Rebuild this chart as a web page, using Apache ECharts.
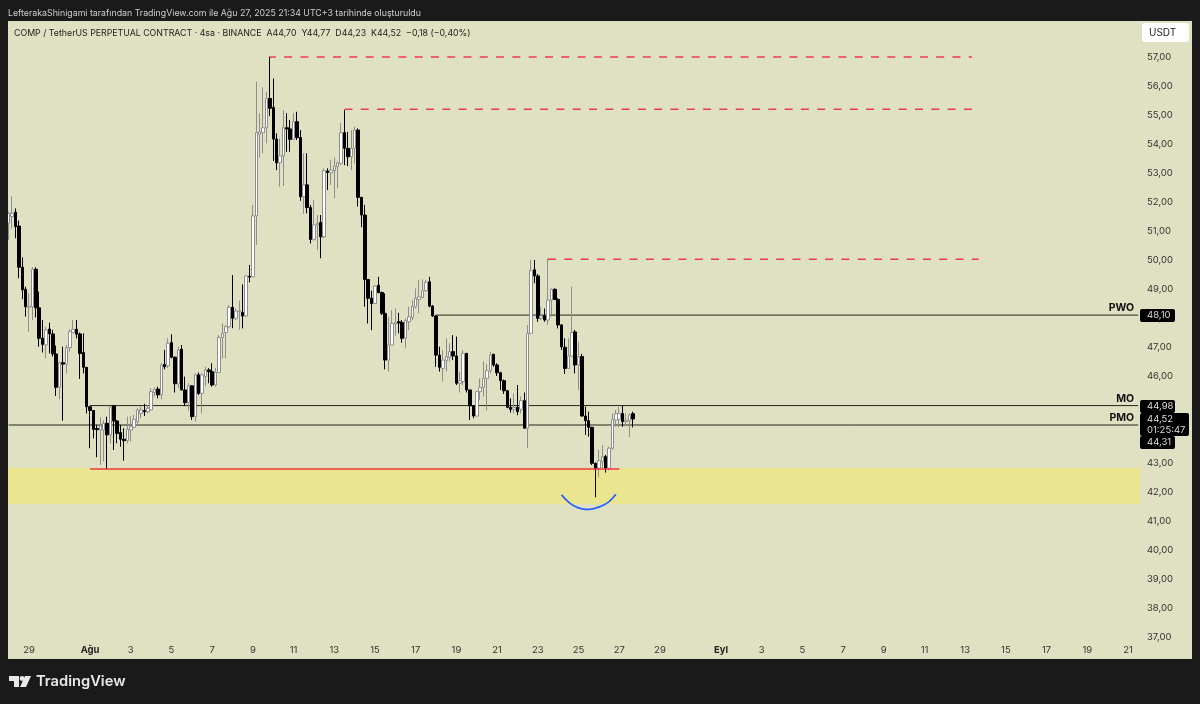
<!DOCTYPE html>
<html>
<head>
<meta charset="utf-8">
<title>COMP / TetherUS</title>
<script src="https://cdn.jsdelivr.net/npm/echarts@6/dist/echarts.min.js"></script>
<style>
  html, body { margin: 0; padding: 0; background: #1a1a1a; }
  #chart { width: 1200px; height: 704px; }
</style>
</head>
<body>
<div id="chart"></div>
<script>
// 4h candles from 28 Jul 2025
var opens = [
  51.27,51.50,51.65,51.17,49.75,48.99,48.37,48.39,49.68,48.35,
  47.30,47.07,47.62,47.45,46.76,45.61,46.46,46.41,46.98,47.50,
  47.61,47.45,46.81,46.30,44.94,44.81,44.19,44.14,44.14,44.37,
  43.97,44.97,44.45,44.05,43.82,43.77,44.14,44.23,44.43,44.71,
  44.81,44.77,44.83,45.43,45.55,45.35,46.40,46.35,47.15,46.65,
  45.73,46.92,45.52,45.08,45.66,44.60,46.04,45.40,45.98,46.21,
  46.15,45.69,46.12,47.33,47.50,47.70,48.37,47.99,48.22,48.19,
  48.07,49.44,49.42,51.52,54.34,54.39,54.56,55.57,55.26,54.17,
  53.35,53.59,54.56,54.52,54.16,54.77,54.22,52.18,52.59,51.81,
  50.71,51.21,51.29,50.80,53.07,53.01,53.08,53.22,53.33,54.39,
  53.85,53.56,53.85,54.48,52.16,51.55,49.33,48.68,48.50,49.13,
  48.88,48.16,46.55,47.07,47.79,47.87,47.84,47.30,47.87,48.02,
  48.39,48.64,48.71,48.94,49.25,48.41,48.07,46.72,46.26,46.53,
  46.64,46.84,46.69,45.75,45.81,46.78,45.52,44.97,44.62,45.46,
  45.61,45.92,46.18,46.75,46.38,46.11,45.84,45.49,44.92,44.85,
  44.92,44.85,45.15,44.20,47.47,49.66,49.45,47.99,48.08,47.93,
  48.62,48.99,48.64,47.76,46.99,46.26,46.69,47.52,46.38,46.67,
  44.62,44.46,44.23,42.99,42.82,43.05,43.22,42.82,43.51,44.48,
  44.51,44.71,44.43,44.46,44.70
];
var closes = [
  51.61,51.61,51.15,49.75,48.97,48.39,48.41,49.68,48.35,47.30,
  47.09,47.59,47.45,46.76,45.61,46.46,46.41,46.98,47.53,47.61,
  47.44,46.78,46.30,44.94,44.81,44.16,44.15,44.28,44.37,43.97,
  44.94,44.45,44.02,43.82,43.77,44.16,44.25,44.51,44.83,44.83,
  44.77,44.89,45.46,45.54,45.35,46.38,46.32,47.13,46.65,45.73,
  46.90,45.52,45.08,45.66,44.60,46.04,45.40,46.04,46.21,46.15,
  45.69,46.13,47.33,47.47,47.70,48.37,47.99,48.24,48.25,48.07,
  49.45,49.41,51.52,54.39,54.42,54.56,55.57,55.23,54.17,53.35,
  53.59,54.56,54.52,54.16,54.77,54.22,52.18,52.59,51.81,50.71,
  51.21,51.26,50.80,53.08,53.02,53.10,53.24,53.35,54.39,53.85,
  53.56,53.85,54.48,52.16,51.55,49.33,48.68,48.50,49.10,48.88,
  48.16,46.55,47.07,47.81,47.84,47.83,47.30,47.91,48.04,48.39,
  48.68,48.73,48.94,49.23,48.41,48.07,46.72,46.30,46.55,46.67,
  46.84,46.69,45.75,45.84,46.78,45.52,44.97,44.62,45.46,45.61,
  45.92,46.18,46.72,46.38,46.11,45.84,45.49,44.92,44.85,44.92,
  44.77,45.15,44.20,47.47,49.63,49.45,47.99,48.07,47.93,48.62,
  48.99,48.64,47.76,47.01,46.26,46.69,47.50,46.38,46.67,44.62,
  44.46,44.23,42.99,42.82,43.08,43.22,42.82,43.51,44.51,44.69,
  44.71,44.43,44.48,44.66,44.52
];
var lows = [
  50.69,51.09,50.75,49.37,48.65,48.05,47.53,47.93,48.02,47.01,
  46.81,46.61,46.78,46.67,45.31,45.20,44.46,46.09,46.84,47.47,
  47.30,45.90,46.09,44.71,43.51,43.85,43.20,42.93,43.05,42.78,
  43.68,43.45,43.68,43.56,43.08,43.68,43.74,44.20,44.31,44.54,
  44.62,44.71,44.81,45.29,45.23,45.20,46.23,46.27,46.61,45.43,
  45.58,45.50,44.97,44.81,44.48,44.43,45.35,44.71,45.66,45.75,
  45.63,45.63,46.12,46.61,46.61,47.65,47.65,47.93,47.59,47.64,
  48.04,49.23,49.40,50.52,53.54,53.68,54.02,54.96,53.42,53.10,
  52.53,52.55,53.73,53.73,54.14,54.14,52.04,51.59,51.61,50.57,
  50.67,50.34,50.06,50.75,52.41,52.59,52.13,52.47,53.27,53.27,
  53.24,53.10,53.33,51.84,51.13,48.39,47.81,47.58,48.48,48.85,
  48.10,46.23,46.15,47.07,47.39,47.47,47.15,46.95,47.58,47.93,
  48.33,48.16,48.68,48.91,48.37,48.04,46.32,46.15,45.81,46.15,
  46.50,46.55,45.69,45.43,45.69,45.43,44.48,44.54,44.60,45.17,
  45.29,44.81,46.09,46.32,46.00,45.52,45.38,44.89,44.74,44.71,
  44.65,44.71,44.20,43.51,47.47,49.20,47.87,47.93,47.87,47.76,
  48.05,48.62,47.64,46.90,46.07,46.26,46.67,46.09,45.52,44.60,
  43.97,43.91,42.93,41.82,42.51,42.82,42.67,42.74,43.45,44.25,
  44.23,44.25,44.31,43.89,44.23
];
var highs = [
  51.67,52.19,51.78,51.36,50.09,49.08,48.85,49.75,49.75,48.91,
  47.93,47.70,47.84,47.59,47.05,46.50,47.01,47.07,47.61,47.93,
  47.93,47.50,47.47,46.30,44.97,44.83,44.31,44.58,44.48,44.60,
  44.97,44.97,44.48,44.31,44.20,44.60,44.62,44.66,44.89,44.94,
  45.04,45.00,45.58,45.61,45.63,46.44,46.90,47.30,47.44,46.67,
  47.01,47.07,45.98,45.75,45.69,46.09,46.12,46.09,46.32,46.27,
  46.44,46.27,47.41,47.82,47.76,48.45,49.48,48.33,48.60,49.16,
  49.48,49.83,51.90,56.15,55.06,55.95,55.80,57.01,56.26,54.37,
  54.19,55.17,55.06,54.83,55.06,55.11,54.48,53.68,53.68,51.90,
  52.07,51.55,51.55,53.16,53.16,53.45,53.54,53.39,54.73,55.17,
  54.42,54.48,54.60,54.54,52.18,51.90,49.33,48.94,49.14,49.42,
  48.91,48.85,48.04,48.27,48.33,48.18,47.93,47.99,48.39,48.62,
  49.02,49.31,49.33,49.31,49.42,48.45,48.10,47.01,46.90,47.30,
  47.13,47.41,47.36,46.15,46.90,46.78,45.52,45.00,45.49,45.92,
  46.50,46.41,46.84,46.76,46.44,46.15,45.88,45.52,45.23,45.40,
  45.69,45.29,45.43,47.76,50.00,50.00,49.52,48.39,48.33,50.06,
  49.02,49.02,48.68,47.79,47.30,47.30,49.08,47.59,47.18,46.76,
  44.94,44.77,44.25,43.01,43.45,43.62,43.28,43.56,44.71,44.83,
  44.94,45.00,44.71,44.71,44.77
];

// x axis: one slot per 4h bar, labels on the first bar of the listed days
var barCount = 334;
var tickBars = [6,24,36,48,60,72,84,96,108,120,132,144,156,168,180,192,210,222,234,246,258,270,282,294,306,318,330];
var tickLabels = ['29','Ağu','3','5','7','9','11','13','15','17','19','21','23','25','27','29','Eyl','3','5','7','9','11','13','15','17','19','21'];

// drawn levels
var dashedValues = [57.00, 55.20, 50.03];
var dashedStart = [77, 99, 159];
var dashedEnd = [284, 284, 286];
var dashedOffset = [2, 0, 0];
var refNames = ['PWO', 'MO', 'PMO'];
var refValues = [48.10, 44.98, 44.31];
var refStart = [126, 24, 0];
var supportValue = 42.79;
var supportBars = [24, 180];
var zoneValues = [41.59, 42.83];
var arcBars = [163, 165, 167, 169, 171, 173, 175, 177, 179];
var arcValues = [41.90, 41.66, 41.50, 41.42, 41.40, 41.44, 41.53, 41.67, 41.92];

var panelColor = '#dfe1c2';
var frameColor = '#1a1a1a';
var font = 'Inter, "Noto Sans", sans-serif';

var categories = [];
for (var i = 0; i < barCount; i++) {
    var at = tickBars.indexOf(i);
    categories.push(at >= 0 ? tickLabels[at] : '');
}

var candles = opens.map(function (o, idx) {
    return [o, closes[idx], lows[idx], highs[idx]];
});

var series = [{
    name: 'COMP',
    type: 'candlestick',
    z: 3,
    barWidth: 3,
    data: candles,
    itemStyle: {
        color: '#ffffff',
        color0: '#000000',
        borderColor: '#8e8e8e',
        borderColor0: '#000000',
        borderWidth: 1
    }
}, {
    // yellow zone under everything
    name: 'zone',
    type: 'line',
    z: 1,
    data: [],
    markArea: {
        silent: true,
        itemStyle: { color: '#ece58f' },
        data: [[{ yAxis: zoneValues[0] }, { yAxis: zoneValues[1] }]]
    }
}, {
    name: 'support',
    type: 'line',
    z: 4,
    symbol: 'none',
    lineStyle: { color: '#f23645', width: 1.5 },
    data: [[supportBars[0], supportValue], [supportBars[1], supportValue]]
}, {
    name: 'arc',
    type: 'line',
    z: 4,
    symbol: 'none',
    smooth: true,
    lineStyle: { color: '#2962ff', width: 1.8 },
    data: arcBars.map(function (b, idx) { return [b, arcValues[idx]]; })
}];

dashedValues.forEach(function (v, idx) {
    series.push({
        name: 'high ' + idx,
        type: 'line',
        z: 4,
        symbol: 'none',
        lineStyle: { color: '#ee3b4e', width: 1.5, type: [8, 8.3], dashOffset: dashedOffset[idx] },
        data: [[dashedStart[idx], v], [dashedEnd[idx], v]]
    });
});

refValues.forEach(function (v, idx) {
    series.push({
        name: refNames[idx],
        type: 'line',
        z: 2,
        symbol: 'none',
        lineStyle: { color: '#25251c', width: 1 },
        endLabel: {
            show: true,
            align: 'right',
            offset: [-12, -7],
            formatter: refNames[idx],
            color: '#111',
            fontFamily: font,
            fontWeight: 'bold',
            fontSize: 10.5
        },
        data: [[refStart[idx], v], [barCount - 1, v]]
    });
});

function priceTag(y, h, w, lines) {
    var items = [{
        type: 'rect', z: 110,
        shape: { x: 1140, y: y, width: w, height: h, r: 2 },
        style: { fill: '#000' }
    }];
    lines.forEach(function (t, idx) {
        items.push({
            type: 'text', z: 111, x: 1147, y: y + 6.5 + idx * 10.5,
            style: { text: t, fill: '#dcdcdc', font: '9.5px ' + font, textVerticalAlign: 'middle' }
        });
    });
    return items;
}

var graphics = [
    { type: 'rect', z: 100, shape: { x: 0, y: 0, width: 1200, height: 21 }, style: { fill: frameColor } },
    { type: 'rect', z: 100, shape: { x: 0, y: 0, width: 8, height: 704 }, style: { fill: frameColor } },
    { type: 'rect', z: 100, shape: { x: 1192, y: 0, width: 8, height: 704 }, style: { fill: frameColor } },
    { type: 'rect', z: 100, shape: { x: 0, y: 659, width: 1200, height: 45 }, style: { fill: frameColor } },
    { type: 'rect', z: 110, shape: { x: 1142, y: 23, width: 47, height: 19, r: 3 }, style: { fill: '#fff' } },
    { type: 'text', z: 111, x: 1149, y: 32.5, style: { text: 'USDT', fill: '#222', font: '10px ' + font, textVerticalAlign: 'middle' } },
    // logo
    { type: 'polygon', z: 110, shape: { points: [[9, 676], [19, 676], [19, 687], [14, 687], [14, 681], [9, 681]] }, style: { fill: '#e8e8e8' } },
    { type: 'circle', z: 110, shape: { cx: 22, cy: 678.5, r: 2.4 }, style: { fill: '#e8e8e8' } },
    { type: 'polygon', z: 110, shape: { points: [[25, 676], [31, 676], [26, 687], [20, 687]] }, style: { fill: '#e8e8e8' } },
    { type: 'text', z: 110, x: 36, y: 682, style: { text: 'TradingView', fill: '#e8e8e8', font: '600 14.7px ' + font, textVerticalAlign: 'middle' } }
].concat(
    priceTag(309, 13, 35, ['48,10']),
    priceTag(400, 13, 35, ['44,98']),
    priceTag(413, 23, 49, ['44,52', '01:25:47']),
    priceTag(436, 13, 35, ['44,31'])
);

var option = {
    animation: false,
    backgroundColor: panelColor,
    title: [{
        text: 'LefterakaShinigami tarafından TradingView.com ile Ağu 27, 2025 21:34 UTC+3 tarihinde oluşturuldu',
        left: 8, top: 9, padding: 0, z: 120,
        textStyle: { color: '#cfcfcf', fontFamily: font, fontWeight: 'normal', fontSize: 8.8 }
    }, {
        text: 'COMP / TetherUS PERPETUAL CONTRACT · 4sa · BINANCE  A44,70  Y44,77  D44,23  K44,52  −0,18 (−0,40%)',
        left: 14, top: 29, padding: 0, z: 120,
        textStyle: { color: '#222', fontFamily: font, fontWeight: 'normal', fontSize: 8.8 }
    }],
    grid: { left: 7, top: 28, width: 1132.9, height: 638 },
    xAxis: {
        type: 'category',
        data: categories,
        boundaryGap: true,
        axisLine: { show: false },
        axisTick: { show: false },
        axisLabel: {
            inside: true,
            interval: 0,
            margin: 11,
            color: '#333',
            fontFamily: font,
            fontSize: 9.5,
            formatter: function (v) {
                return (v === 'Ağu' || v === 'Eyl') ? '{b|' + v + '}' : v;
            },
            rich: { b: { fontWeight: 'bold', fontFamily: font, fontSize: 9.5, color: '#222' } }
        }
    },
    yAxis: {
        type: 'value',
        position: 'right',
        min: 36,
        max: 58,
        interval: 1,
        splitLine: { show: false },
        axisLine: { show: false },
        axisTick: { show: false },
        axisLabel: {
            margin: 7,
            color: '#333',
            fontFamily: font,
            fontSize: 9.5,
            formatter: function (v) { return v.toFixed(2).replace('.', ','); }
        }
    },
    graphic: { elements: graphics },
    series: series
};

var myChart = echarts.init(document.getElementById('chart'));
myChart.setOption(option);
</script>
</body>
</html>
